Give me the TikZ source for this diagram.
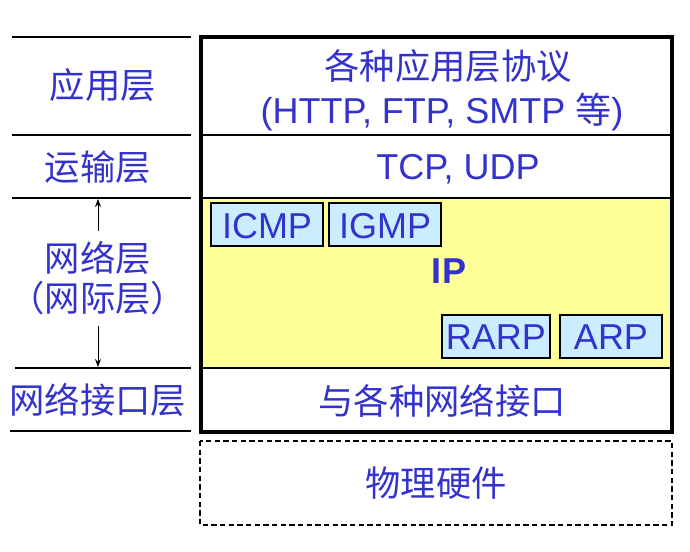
\documentclass[tikz,border=0pt]{standalone}
\usepackage{fontspec}
\setmainfont{Liberation Sans}
\newfontfamily\cjk{Noto Sans CJK SC}
\usetikzlibrary{arrows.meta}
\definecolor{txtblue}{RGB}{51,51,204}
\definecolor{ipyellow}{RGB}{255,255,153}
\definecolor{protoblue}{RGB}{204,236,255}
\tikzset{
  lbl/.style={text=txtblue, font=\fontsize{27}{32}\selectfont, inner sep=0pt},
  clbl/.style={text=txtblue, font=\cjk\fontsize{26.5}{32}\selectfont, inner sep=0pt},
  proto/.style={draw=black, line width=0.9pt, fill=protoblue},
  sep/.style={line width=0.8pt},
  innersep/.style={line width=1.1pt},
  updown/.style={line width=0.6pt, -{Stealth[length=6pt,width=4.5pt]}},
}
\begin{document}
\begin{tikzpicture}[x=0.75pt, y=-0.75pt]
\useasboundingbox (0,0) rectangle (690,552);
% yellow network area
\fill[ipyellow] (201,198) rectangle (672,368);
% protocol boxes
\draw[proto] (211,203) rectangle (323,246);
\draw[proto] (329,203) rectangle (441,246);
\draw[proto] (442,315) rectangle (550,358);
\draw[proto] (560,315) rectangle (662,358);
\node[lbl] (icmp) at (267,226) {ICMP};
\node[lbl] (igmp) at (385,226) {IGMP};
\node[lbl] (rarp) at (496,337) {RARP};
\node[lbl] (arp) at (611,337) {ARP};
\node[lbl, font=\bfseries\fontsize{27}{32}\selectfont] (ip) at (449,271) {IP};
% inner separators
\draw[innersep] (201,135) -- (672,135);
\draw[innersep] (201,198) -- (672,198);
\draw[innersep] (201,368) -- (672,368);
% main box
\draw[line width=2.3pt] (201,37) rectangle (672,432);
% dashed hardware box
\draw[line width=0.9pt, dash pattern=on 4pt off 2.5pt] (200,441) rectangle (672,525);
% right texts
\node[clbl] (app1) at (448,66) {各种应用层协议};
\node[lbl] (app2) at (442,112) {(HTTP, FTP, SMTP {\cjk 等})};
\node[lbl] (tcp) at (458,169) {TCP, UDP};
\node[clbl] (ifc) at (442,401) {与各种网络接口};
\node[clbl] (hw) at (436,483) {物理硬件};
% left lines
\draw[sep] (12,37) -- (191,37);
\draw[sep] (12,135) -- (191,135);
\draw[sep] (12,198) -- (191,198);
\draw[sep] (15,368) -- (191,368);
\draw[sep] (10,431) -- (191,431);
% left labels
\node[clbl] (la) at (103,85) {应用层};
\node[clbl] (lt) at (98,167) {运输层};
\node[clbl] (ln) at (98,258) {网络层};
\node[clbl] (ln2) at (98,298) {（网际层）};
\node[clbl] (li) at (98,400) {网络接口层};
\coordinate (up) at (98,199);
\coordinate (down) at (98,367);
\draw[updown] (98,231) -- (up);
\draw[updown] (98,326) -- (down);
\end{tikzpicture}
\end{document}
